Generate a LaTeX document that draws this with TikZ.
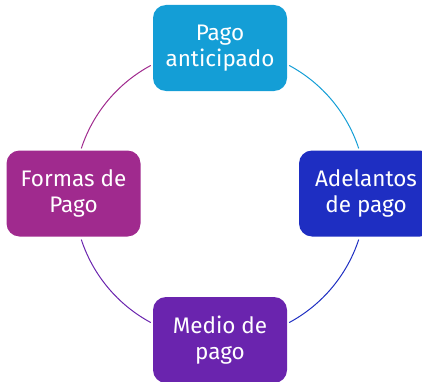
\documentclass[tikz,border=0pt]{standalone}
\usepackage{fontspec}
\setmainfont{Fira Sans}
\definecolor{cTop}{RGB}{20,158,214}
\definecolor{cRight}{RGB}{30,46,194}
\definecolor{cBottom}{RGB}{106,36,174}
\definecolor{cLeft}{RGB}{160,42,142}
\begin{document}
\begin{tikzpicture}[x=1pt,y=1pt,
  box/.style={rounded corners=13pt, minimum width=134pt, minimum height=86pt,
    inner sep=0pt, text=white, align=center,
    font=\fontsize{22.5}{26}\selectfont},
  arcline/.style={line width=1pt}]
\useasboundingbox (0,0) rectangle (422,381);
\clip (0,0) rectangle (422,381);
\coordinate (c) at (220,187);
\node[box, fill=cTop] (top) at (220,333) {Pago\\anticipado};
\node[box, fill=cRight] (right) at (366,187.5) {Adelantos\\de pago};
\node[box, fill=cBottom] (bottom) at (220,41) {Medio de\\pago};
\node[box, fill=cLeft] (left) at (73.5,187.5) {Formas de\\Pago};
\draw[arcline, cTop] ([shift={(c)}]61.7:146) arc[start angle=61.7, end angle=18.2, radius=146];
\draw[arcline, cRight] ([shift={(c)}]-18.2:146) arc[start angle=-18.2, end angle=-61.7, radius=146];
\draw[arcline, cBottom] ([shift={(c)}]-118.3:146) arc[start angle=-118.3, end angle=-161.8, radius=146];
\draw[arcline, cLeft] ([shift={(c)}]161.8:146) arc[start angle=161.8, end angle=118.3, radius=146];
\end{tikzpicture}
\end{document}
